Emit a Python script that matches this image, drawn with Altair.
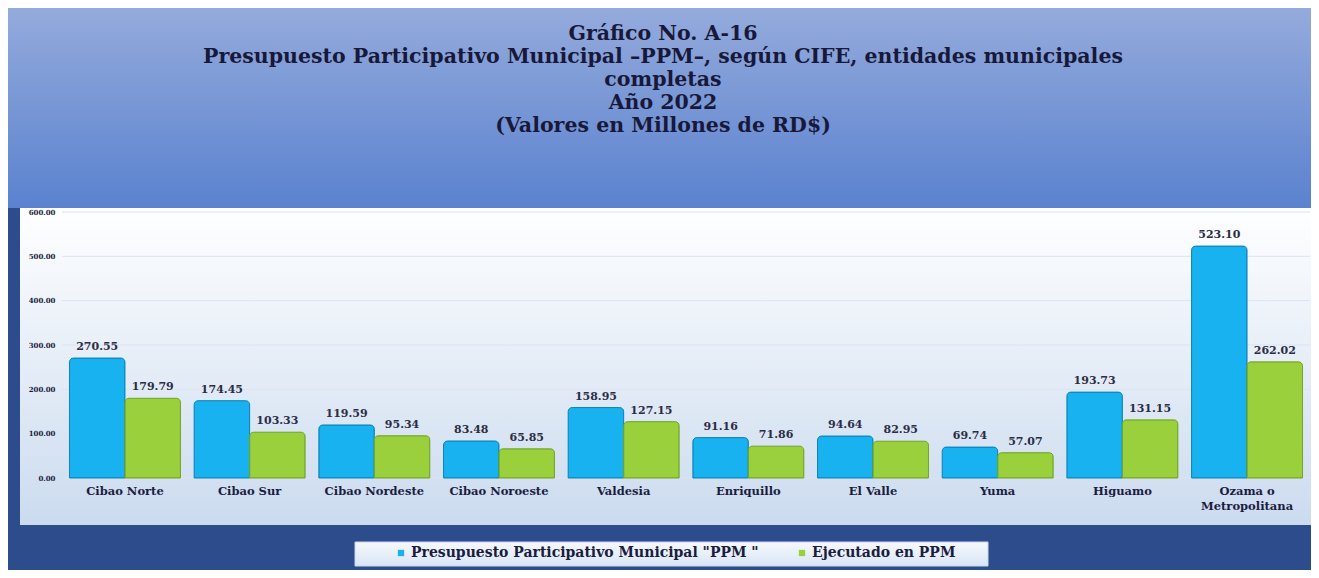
import altair as alt
import pandas as pd

# ---------------- data ----------------
regions = ["Cibao Norte", "Cibao Sur", "Cibao Nordeste", "Cibao Noroeste", "Valdesia",
           "Enriquillo", "El Valle", "Yuma", "Higuamo", "Ozama o Metropolitana"]
ppm = [270.55, 174.45, 119.59, 83.48, 158.95, 91.16, 94.64, 69.74, 193.73, 523.10]
ejecutado = [179.79, 103.33, 95.34, 65.85, 127.15, 71.86, 82.95, 57.07, 131.15, 262.02]
series_names = ['Presupuesto Participativo Municipal "PPM "', "Ejecutado en  PPM"]
y_ticks = [0, 100, 200, 300, 400, 500, 600]
title_lines = [
    "Gráfico No. A-16",
    "Presupuesto Participativo Municipal –PPM–, según CIFE, entidades municipales",
    "completas",
    "Año 2022",
    "(Valores en Millones de RD$)",
]

# ---------------- styling ----------------
bar_colors = ["#17b2ef", "#99d03c"]
bar_strokes = ["#0d84bb", "#74a628"]
SERIF = "DejaVu Serif"
W, H = 1248, 266

rows = []
for r, a, b in zip(regions, ppm, ejecutado):
    rows.append({"region": r, "serie": series_names[0], "valor": a})
    rows.append({"region": r, "serie": series_names[1], "valor": b})
df = pd.DataFrame(rows)
grid_df = pd.DataFrame({"valor": y_ticks})
one = pd.DataFrame({"k": [0]})


def vgrad(c0, c1):
    return alt.Gradient(
        gradient="linear",
        stops=[alt.GradientStop(color=c0, offset=0), alt.GradientStop(color=c1, offset=1)],
        x1=0, x2=0, y1=0, y2=1,
    )


title_bg = alt.Chart(one).mark_rect(fill=vgrad("#95abdc", "#5a82cf")).encode(
    x=alt.value(-60), x2=alt.value(W + 60), y=alt.value(-206), y2=alt.value(-4)
)
panel_bg = alt.Chart(one).mark_rect(fill=vgrad("#ffffff", "#cbdbef")).encode(
    x=alt.value(-42), x2=alt.value(W + 20), y=alt.value(-4), y2=alt.value(313)
)
legend_bg = alt.Chart(one).mark_rect(
    fill=vgrad("#f6f9fd", "#d9e5f4"), stroke="#c9d6ea", strokeWidth=1
).encode(x=alt.value(293), x2=alt.value(926), y=alt.value(330), y2=alt.value(354))

title_text = alt.Chart(one).mark_text(
    font=SERIF, fontSize=20.5, fontWeight="bold", color="#18193a",
    lineHeight=23, baseline="top", align="center",
).encode(x=alt.value(W / 2 - 23), y=alt.value(-188), text=alt.value(title_lines))

x_enc = alt.X(
    "region:N", sort=regions,
    scale=alt.Scale(paddingInner=0.11, paddingOuter=0.06),
    axis=alt.Axis(
        title=None, ticks=False, domain=False, labelAngle=0, zindex=1,
        labelFont=SERIF, labelFontSize=11.5, labelFontWeight="bold", labelColor="#1b1d3f",
        labelPadding=7, labelLineHeight=15, labelLimit=300,
        labelExpr="datum.label == 'Ozama o Metropolitana' ? ['Ozama o', 'Metropolitana'] : datum.label",
    ),
)
y_enc = alt.Y(
    "valor:Q", scale=alt.Scale(domain=[0, 600]),
    axis=alt.Axis(
        title=None, values=y_ticks, format=".2f", grid=False, ticks=False, domain=False, zindex=1,
        labelFont=SERIF, labelFontSize=7, labelFontWeight="bold", labelColor="#1b1d3f",
        labelPadding=7,
    ),
)

grid = alt.Chart(grid_df).mark_rule(color="#dbe4ef", strokeWidth=1).encode(y=y_enc)

bars = alt.Chart(df).mark_bar(cornerRadiusTopLeft=4, cornerRadiusTopRight=4, strokeWidth=1).encode(
    x=x_enc,
    xOffset=alt.XOffset("serie:N", sort=series_names),
    y=y_enc,
    color=alt.Color(
        "serie:N", sort=series_names,
        scale=alt.Scale(domain=series_names, range=bar_colors),
        legend=alt.Legend(
            title=None, orient="none", legendX=332, legendY=334, direction="horizontal",
            columns=2, columnPadding=36, padding=0, symbolType="square", symbolSize=40,
            symbolStrokeWidth=0, labelFont=SERIF, labelFontSize=14, labelFontWeight="bold",
            labelColor="#1b1d3f", labelLimit=600, labelOffset=3,
        ),
    ),
    stroke=alt.Stroke("serie:N", scale=alt.Scale(domain=series_names, range=bar_strokes), legend=None),
)

labels = alt.Chart(df).mark_text(
    font=SERIF, fontSize=11, fontWeight="bold", color="#2b2d45", baseline="bottom", dy=-6
).encode(
    x=x_enc,
    xOffset=alt.XOffset("serie:N", sort=series_names),
    y=y_enc,
    text=alt.Text("valor:Q", format=".2f"),
)

chart = alt.layer(title_bg, panel_bg, legend_bg, grid, bars, labels, title_text).properties(
    width=W, height=H,
    autosize=alt.AutoSizeParams(type="none"),
    padding={"left": 54, "top": 204, "right": 1, "bottom": 92},
    background="#2c4c8b",
).configure_view(stroke=None)

chart.save("out.html", embed_options={"renderer": "svg", "actions": False})
